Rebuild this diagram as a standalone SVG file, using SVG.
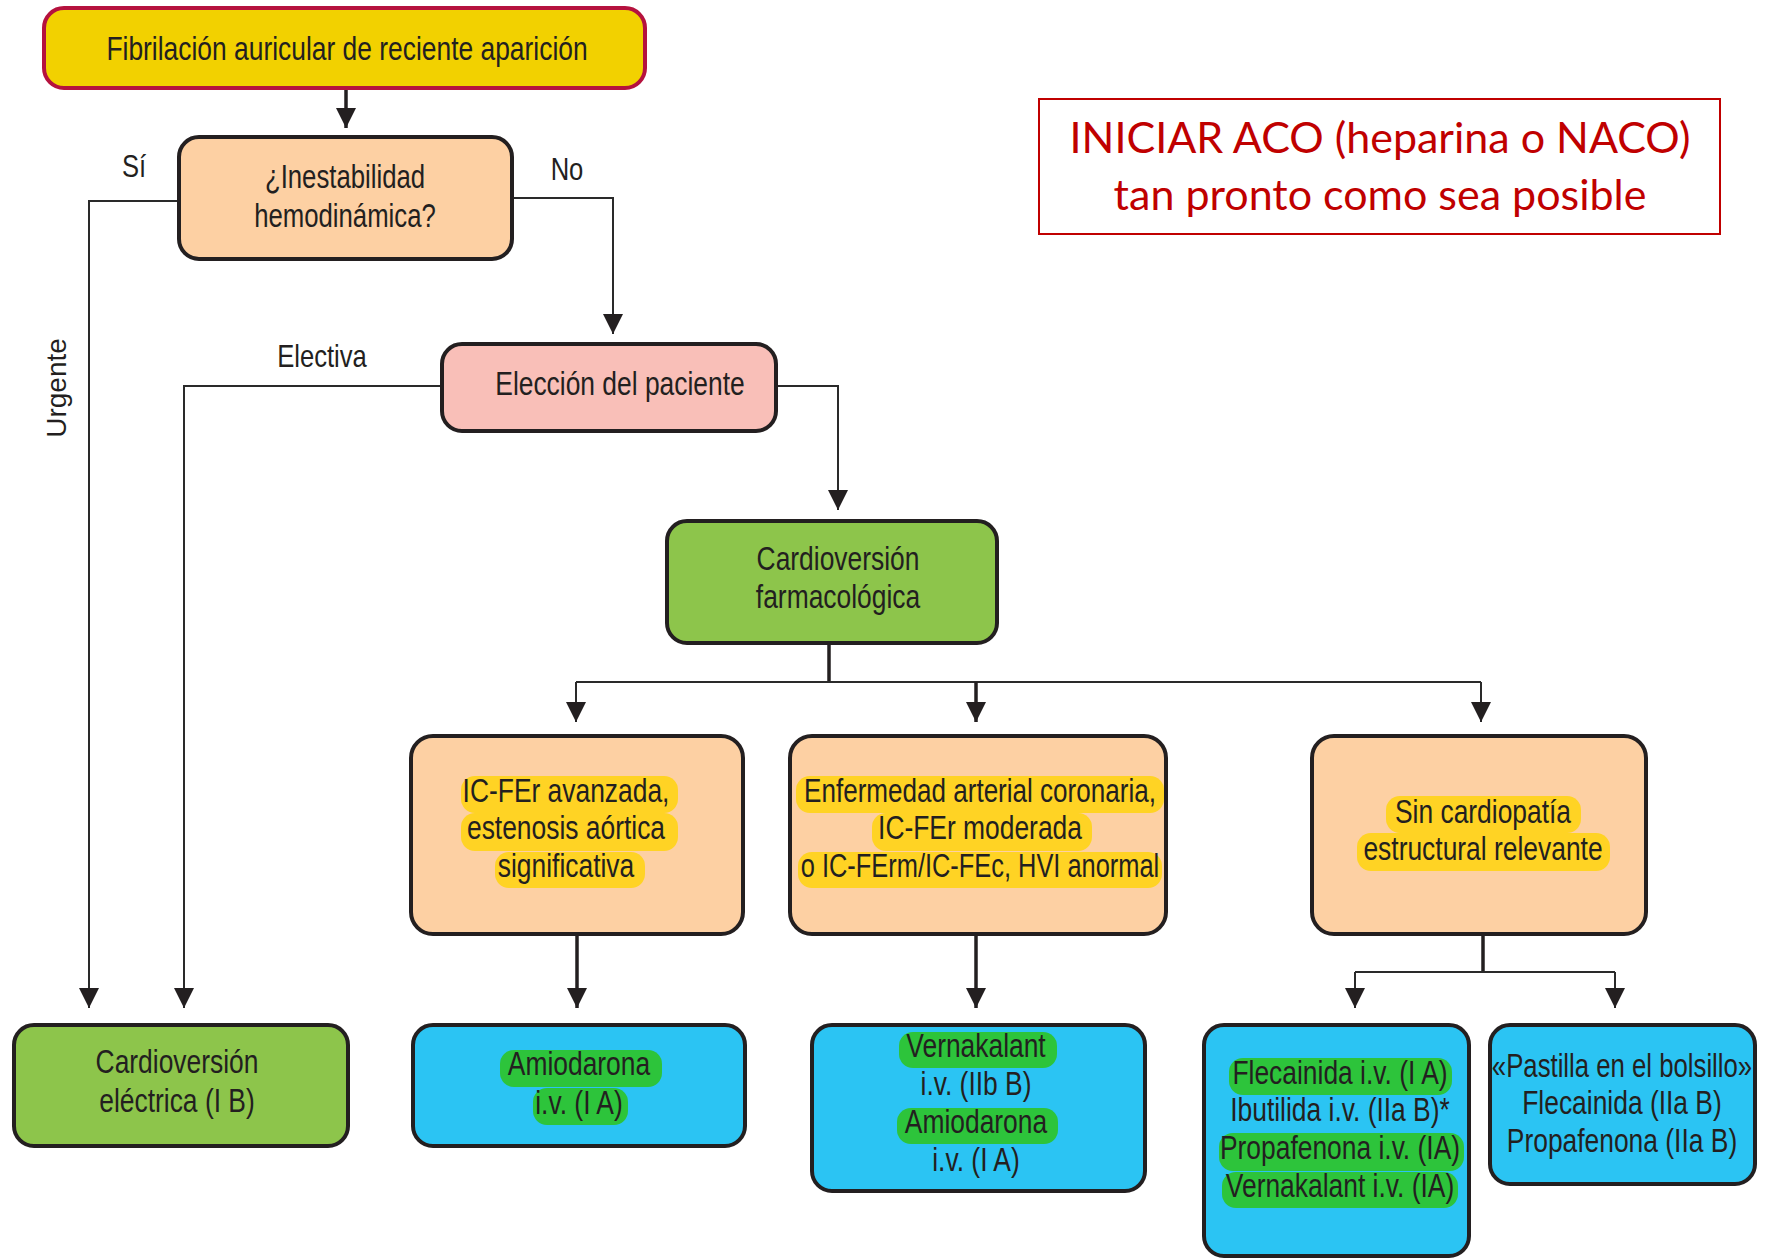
<svg xmlns="http://www.w3.org/2000/svg" width="1767" height="1258" viewBox="0 0 1767 1258">
<style>
.t{font-family:"Liberation Sans",Arial,sans-serif;font-size:33px;fill:#231F20;text-anchor:middle}
.lbl{font-family:"Liberation Sans",Arial,sans-serif;font-size:32px;fill:#231F20;text-anchor:middle}
.box{stroke:#231F20;stroke-width:4}
.peach{fill:#FDD0A3}
.green{fill:#8DC54B}
.blue{fill:#2BC4F3}
.hy{fill:#FFD324}
.hg{fill:#2DC43B}
.thin{fill:none;stroke:#2A2A2A;stroke-width:2}
.thick{fill:none;stroke:#231F20;stroke-width:3.5}
.red{font-family:Lato,"Open Sans",sans-serif;font-size:43px;fill:#C00000;text-anchor:middle}
</style>
<defs>
<marker id="ah" markerUnits="userSpaceOnUse" markerWidth="20" markerHeight="20" viewBox="0 0 18 18" refX="18" refY="9" orient="auto">
<path d="M0,0 L18,9 L0,18 z" fill="#231F20"/>
</marker>
</defs>
<rect width="1767" height="1258" fill="#fff"/>

<g id="connectors">
<path class="thick" d="M346,88 V128" marker-end="url(#ah)"/>
<path class="thin" d="M179,201 H89 V1008" marker-end="url(#ah)"/>
<path class="thin" d="M512,198 H613 V334" marker-end="url(#ah)"/>
<path class="thin" d="M442,386 H184 V1008" marker-end="url(#ah)"/>
<path class="thin" d="M776,386 H838 V510" marker-end="url(#ah)"/>
<path class="thick" d="M829,643 V682"/>
<path class="thin" d="M576,682 H1481"/>
<path class="thin" d="M576,682 V722" marker-end="url(#ah)"/>
<path class="thick" d="M976,682 V722" marker-end="url(#ah)"/>
<path class="thin" d="M1481,682 V722" marker-end="url(#ah)"/>
<path class="thick" d="M577,934 V1008" marker-end="url(#ah)"/>
<path class="thick" d="M976,934 V1008" marker-end="url(#ah)"/>
<path class="thick" d="M1483,934 V972"/>
<path class="thin" d="M1355,972 H1615"/>
<path class="thin" d="M1355,972 V1008" marker-end="url(#ah)"/>
<path class="thin" d="M1615,972 V1008" marker-end="url(#ah)"/>
</g>

<g id="labels">
<text class="lbl" transform="translate(134,177) scale(0.8,1)">Sí</text>
<text class="lbl" transform="translate(567,180) scale(0.8,1)">No</text>
<text class="lbl" transform="translate(322,367) scale(0.8,1)">Electiva</text>
<text transform="translate(66,388) rotate(-90)" style="font-family:'Liberation Sans',Arial,sans-serif;font-size:28px;fill:#231F20;text-anchor:middle">Urgente</text>
</g>

<g id="n-inicio">
<rect x="44" y="8" width="601" height="80" rx="20" fill="#F2D100" stroke="#B5123E" stroke-width="4"/>
<text class="t" transform="translate(347,60) scale(0.8,1)">Fibrilación auricular de reciente aparición</text>
</g>

<g id="n-inestabilidad">
<rect class="box peach" x="179" y="137" width="333" height="122" rx="20"/>
<text class="t" transform="translate(345,188) scale(0.78,1)">¿Inestabilidad</text>
<text class="t" transform="translate(345,227) scale(0.78,1)">hemodinámica?</text>
</g>

<g id="n-eleccion">
<rect class="box" x="442" y="344" width="334" height="87" rx="20" fill="#F9BFB8"/>
<text class="t" transform="translate(620,395) scale(0.8,1)">Elección del paciente</text>
</g>

<g id="n-farmacologica">
<rect class="box green" x="667" y="521" width="330" height="122" rx="20"/>
<text class="t" transform="translate(838,570) scale(0.8,1)">Cardioversión</text>
<text class="t" transform="translate(838,608) scale(0.8,1)">farmacológica</text>
</g>

<g id="n-icfer">
<rect class="box peach" x="411" y="736" width="332" height="198" rx="22"/>
<rect class="hy" x="461" y="776" width="217" height="37" rx="14"/>
<rect class="hy" x="461" y="813" width="217" height="38" rx="14"/>
<rect class="hy" x="495" y="852" width="150" height="36" rx="14"/>
<text class="t" transform="translate(566,802) scale(0.8,1)">IC-FEr avanzada,</text>
<text class="t" transform="translate(566,839) scale(0.8,1)">estenosis aórtica</text>
<text class="t" transform="translate(566,877) scale(0.8,1)">significativa</text>
</g>

<g id="n-coronaria">
<rect class="box peach" x="790" y="736" width="376" height="198" rx="22"/>
<rect class="hy" x="796" y="776" width="368" height="37" rx="14"/>
<rect class="hy" x="872" y="813" width="220" height="38" rx="14"/>
<rect class="hy" x="798" y="852" width="364" height="36" rx="14"/>
<text class="t" transform="translate(980,802) scale(0.79,1)">Enfermedad arterial coronaria,</text>
<text class="t" transform="translate(980,839) scale(0.8,1)">IC-FEr moderada</text>
<text class="t" transform="translate(980,877) scale(0.77,1)">o IC-FErm/IC-FEc, HVI anormal</text>
</g>

<g id="n-sincardiopatia">
<rect class="box peach" x="1312" y="736" width="334" height="198" rx="22"/>
<rect class="hy" x="1386" y="796" width="195" height="37" rx="14"/>
<rect class="hy" x="1357" y="833" width="253" height="38" rx="14"/>
<text class="t" transform="translate(1483,823) scale(0.8,1)">Sin cardiopatía</text>
<text class="t" transform="translate(1483,860) scale(0.8,1)">estructural relevante</text>
</g>

<g id="n-electrica">
<rect class="box green" x="14" y="1025" width="334" height="121" rx="20"/>
<text class="t" transform="translate(177,1073) scale(0.8,1)">Cardioversión</text>
<text class="t" transform="translate(177,1112) scale(0.8,1)">eléctrica (I B)</text>
</g>

<g id="n-amiodarona">
<rect class="box blue" x="413" y="1025" width="332" height="121" rx="20"/>
<rect class="hg" x="500" y="1050" width="162" height="37" rx="14"/>
<rect class="hg" x="533" y="1088" width="95" height="37" rx="14"/>
<text class="t" transform="translate(579,1075) scale(0.8,1)">Amiodarona</text>
<text class="t" transform="translate(579,1114) scale(0.8,1)">i.v. (I A)</text>
</g>

<g id="n-vernakalant">
<rect class="box blue" x="812" y="1025" width="333" height="166" rx="20"/>
<rect class="hg" x="899" y="1032" width="158" height="36" rx="14"/>
<rect class="hg" x="897" y="1108" width="161" height="36" rx="14"/>
<text class="t" transform="translate(976,1057) scale(0.8,1)">Vernakalant</text>
<text class="t" transform="translate(976,1095) scale(0.8,1)">i.v. (IIb B)</text>
<text class="t" transform="translate(976,1133) scale(0.8,1)">Amiodarona</text>
<text class="t" transform="translate(976,1171) scale(0.8,1)">i.v. (I A)</text>
</g>

<g id="n-flecainida">
<rect class="box blue" x="1204" y="1025" width="265" height="231" rx="20"/>
<rect class="hg" x="1229" y="1058" width="223" height="37" rx="14"/>
<rect class="hg" x="1219" y="1133" width="245" height="38" rx="14"/>
<rect class="hg" x="1222" y="1172" width="236" height="36" rx="14"/>
<text class="t" transform="translate(1340,1084) scale(0.8,1)">Flecainida i.v. (I A)</text>
<text class="t" transform="translate(1340,1121) scale(0.8,1)">Ibutilida i.v. (IIa B)*</text>
<text class="t" transform="translate(1340,1159) scale(0.8,1)">Propafenona i.v. (IA)</text>
<text class="t" transform="translate(1340,1197) scale(0.8,1)">Vernakalant i.v. (IA)</text>
</g>

<g id="n-pastilla">
<rect class="box blue" x="1490" y="1025" width="265" height="159" rx="20"/>
<text class="t" transform="translate(1622,1077) scale(0.78,1)">«Pastilla en el bolsillo»</text>
<text class="t" transform="translate(1622,1114) scale(0.8,1)">Flecainida (IIa B)</text>
<text class="t" transform="translate(1622,1152) scale(0.8,1)">Propafenona (IIa B)</text>
</g>

<g id="n-aco">
<rect x="1039" y="99" width="681" height="135" fill="none" stroke="#C00000" stroke-width="2"/>
<text class="red" x="1380" y="153">INICIAR ACO (heparina o NACO)</text>
<text class="red" x="1380" y="210">tan pronto como sea posible</text>
</g>
</svg>
